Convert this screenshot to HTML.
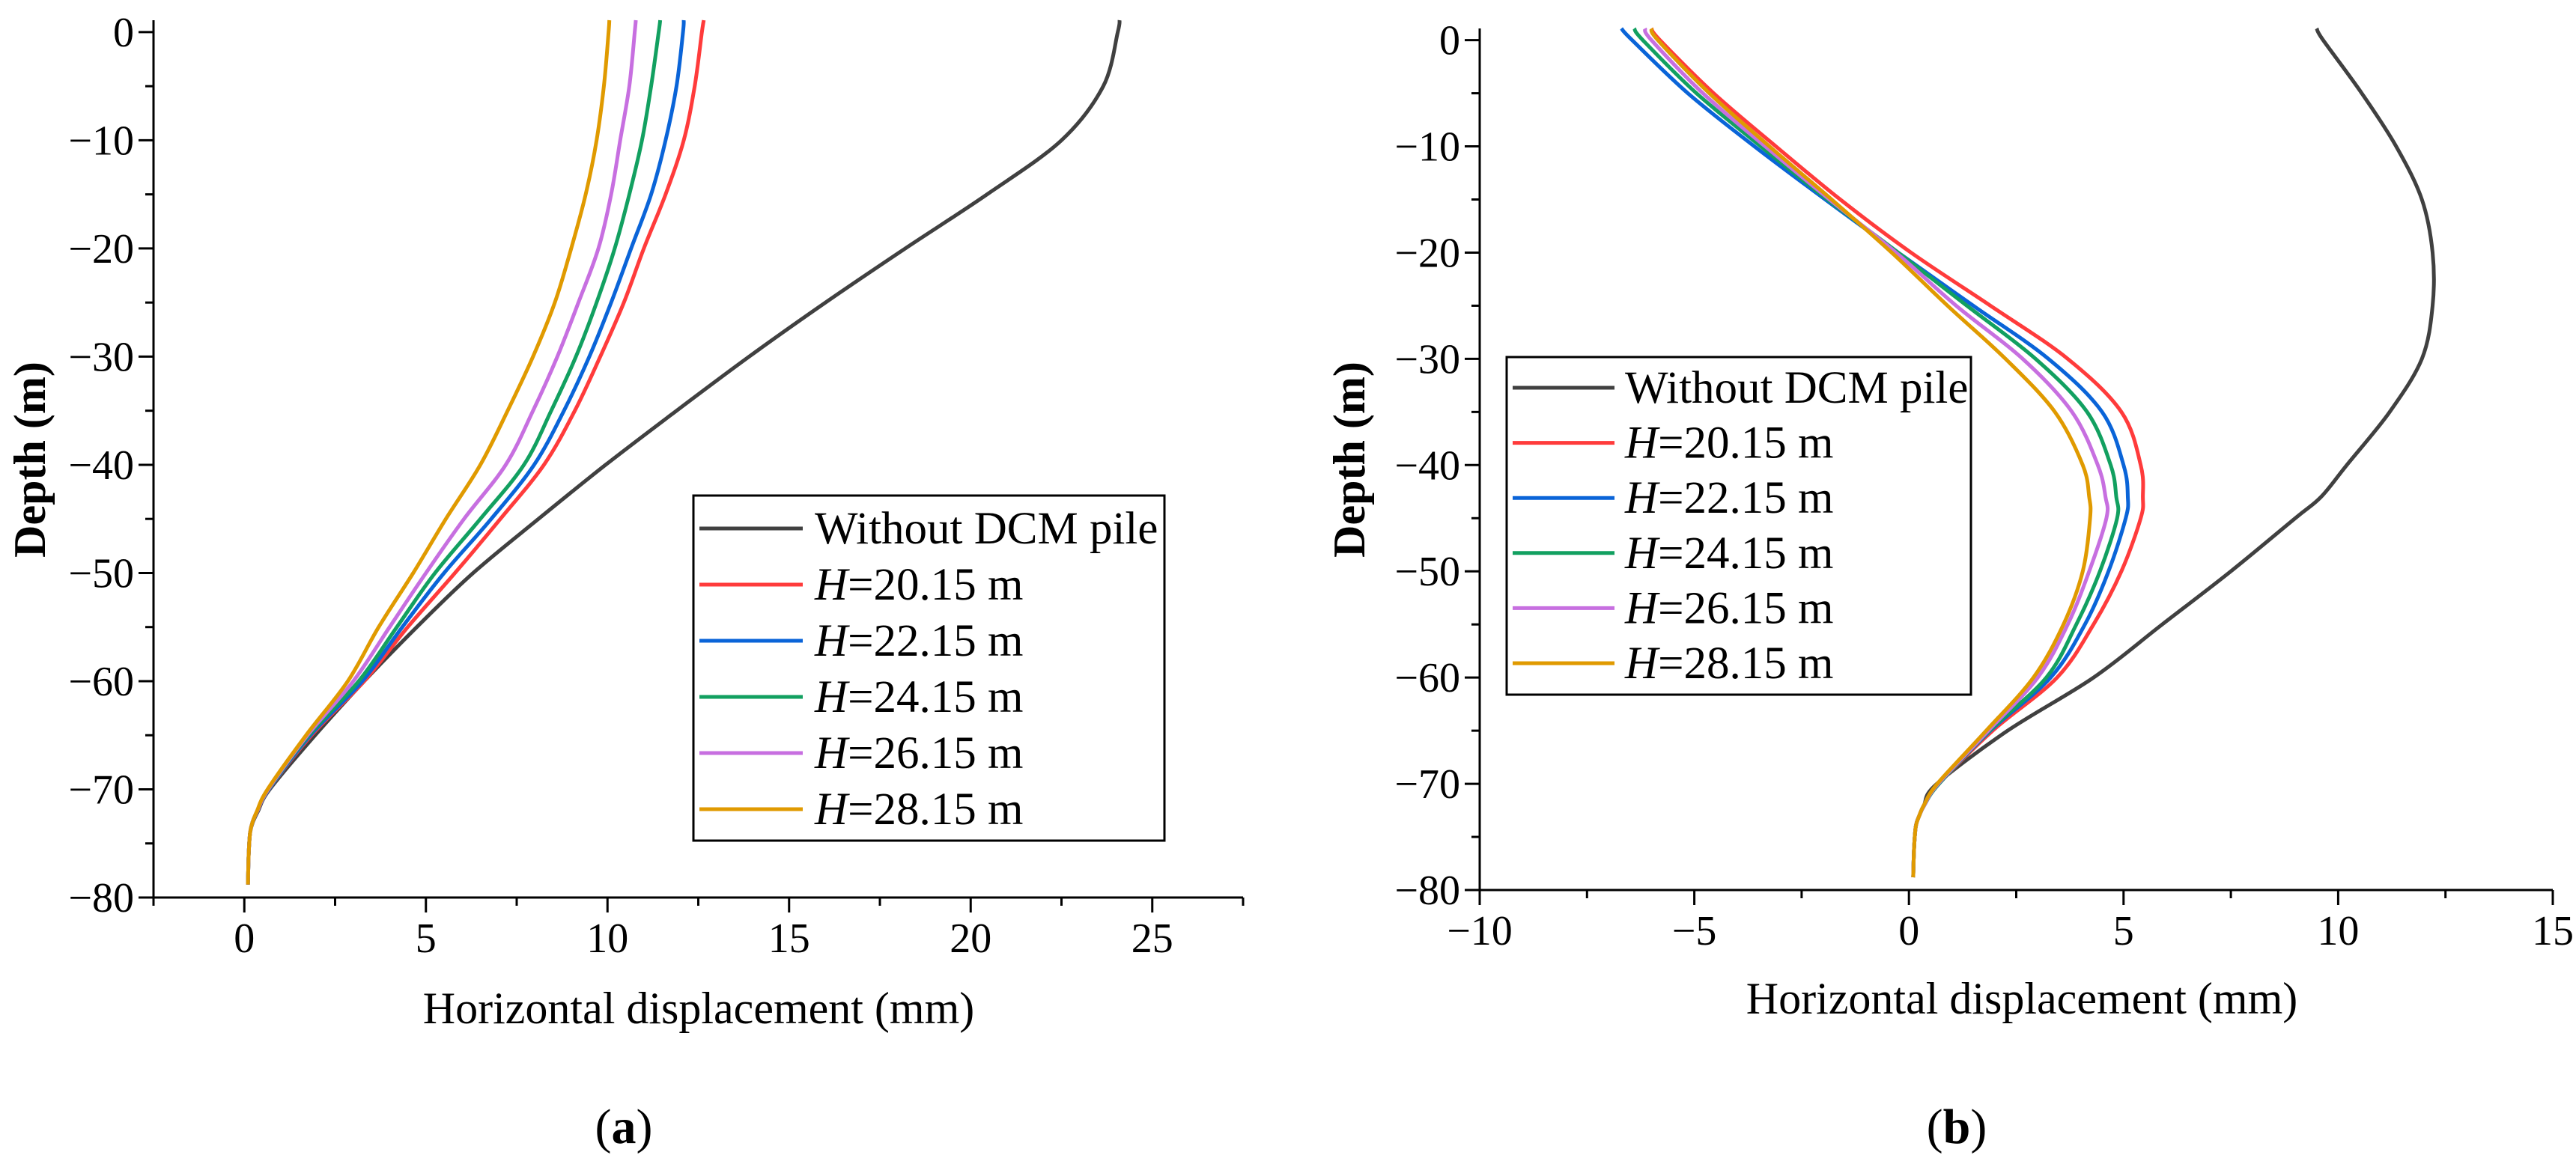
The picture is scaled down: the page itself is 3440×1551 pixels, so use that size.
<!DOCTYPE html>
<html><head><meta charset="utf-8"><style>
html,body{margin:0;padding:0;background:#fff}
svg{display:block;font-family:"Liberation Serif",serif}
</style></head><body>
<svg id="fig" width="3440" height="1551" viewBox="0 0 3440 1551">
<g id="chartA"></g>
<g id="chartB"></g>
<text x="833" y="1527" font-size="66" text-anchor="middle">(<tspan font-weight="bold">a</tspan>)</text>
<text x="2613" y="1527" font-size="66" text-anchor="middle">(<tspan font-weight="bold">b</tspan>)</text>
</svg>
<script>
const seriesNames = ["Without DCM pile","H=20.15 m","H=22.15 m","H=24.15 m","H=26.15 m","H=28.15 m"];
const seriesColors = ["#404040","#ff3b3b","#0a64d8","#12a060","#c76fe0","#e09a00"];
const depthsA = [1.1,0,-5,-10,-15,-20,-25,-30,-35,-40,-45,-50,-55,-60,-65,-70,-72,-73,-74,-76,-78.8];
const aWithout = [24.1,24.05,23.65,22.5,20.45,18.2,16.0,13.9,11.9,9.95,8.1,6.3,4.75,3.3,1.95,0.7,0.38,0.24,0.16,0.12,0.1];
const a2015 = [12.65,12.6,12.4,12.1,11.6,11.0,10.45,9.8,9.1,8.25,7.05,5.8,4.5,3.3,1.85,0.68,0.36,0.23,0.16,0.12,0.1];
const a2215 = [12.1,12.08,11.9,11.6,11.2,10.65,10.1,9.5,8.8,7.98,6.8,5.5,4.35,3.25,1.82,0.68,0.36,0.23,0.16,0.12,0.1];
const a2415 = [11.45,11.41,11.2,10.95,10.6,10.2,9.7,9.13,8.45,7.7,6.5,5.25,4.2,3.15,1.78,0.67,0.36,0.23,0.16,0.12,0.1];
const a2615 = [10.78,10.75,10.6,10.35,10.1,9.75,9.2,8.62,7.95,7.2,6.05,5.0,4.0,3.0,1.74,0.66,0.36,0.23,0.16,0.12,0.1];
const a2815 = [10.05,10.03,9.9,9.7,9.4,9.0,8.55,7.95,7.25,6.5,5.55,4.65,3.7,2.85,1.7,0.64,0.35,0.23,0.16,0.12,0.1];
const depthsB = [1.1,0,-5,-10,-15,-20,-25,-30,-35,-40,-43,-45,-50,-55,-60,-65,-70,-72,-73,-74,-76,-78.8];
const bWithout = [9.5,9.65,10.55,11.35,11.95,12.2,12.2,11.95,11.2,10.2,9.6,9.0,7.5,5.9,4.3,2.3,0.65,0.35,0.24,0.16,0.12,0.1];
const b2015 = [-6.0,-5.8,-4.55,-3.1,-1.6,0.05,1.9,3.7,4.95,5.4,5.45,5.4,4.95,4.3,3.45,1.95,0.7,0.36,0.24,0.16,0.12,0.1];
const b2215 = [-6.7,-6.45,-5.15,-3.6,-1.95,-0.25,1.5,3.25,4.5,5.0,5.1,5.05,4.65,4.1,3.3,1.9,0.7,0.36,0.24,0.16,0.12,0.1];
const b2415 = [-6.4,-6.2,-4.95,-3.45,-1.9,-0.25,1.35,2.95,4.15,4.7,4.83,4.85,4.45,3.9,3.2,1.88,0.7,0.36,0.24,0.16,0.12,0.1];
const b2615 = [-6.15,-6.0,-4.8,-3.35,-1.85,-0.3,1.1,2.65,3.8,4.4,4.58,4.6,4.2,3.7,3.0,1.85,0.68,0.36,0.24,0.16,0.12,0.1];
const b2815 = [-6.0,-5.85,-4.65,-3.25,-1.8,-0.4,0.9,2.25,3.4,4.05,4.2,4.22,4.05,3.6,2.9,1.8,0.66,0.35,0.24,0.16,0.12,0.1];
const xTicksA = [0,5,10,15,20,25];
const xTicksB = [-10,-5,0,5,10,15];
const yTicks = [0,-10,-20,-30,-40,-50,-60,-70,-80];

const NS="http://www.w3.org/2000/svg";
function mk(parent,tag,attrs){const e=document.createElementNS(NS,tag);for(const k in attrs)e.setAttribute(k,attrs[k]);parent.appendChild(e);return e;}
function smooth(pts){let d="M"+pts[0][0].toFixed(1)+","+pts[0][1].toFixed(1);
 for(let i=0;i<pts.length-1;i++){const p0=pts[Math.max(0,i-1)],p1=pts[i],p2=pts[i+1],p3=pts[Math.min(pts.length-1,i+2)];
  const c1=[p1[0]+(p2[0]-p0[0])/6,p1[1]+(p2[1]-p0[1])/6],c2=[p2[0]-(p3[0]-p1[0])/6,p2[1]-(p3[1]-p1[1])/6];
  d+="C"+c1[0].toFixed(1)+","+c1[1].toFixed(1)+" "+c2[0].toFixed(1)+","+c2[1].toFixed(1)+" "+p2[0].toFixed(1)+","+p2[1].toFixed(1);}
 return d;}

function draw(cfg){
 const g=cfg.g;
 const X=v=>cfg.x0+(v-cfg.xmin)/(cfg.xmax-cfg.xmin)*(cfg.x1-cfg.x0);
 const Y=v=>cfg.y0+(cfg.ymax-v)/(cfg.ymax-cfg.ymin)*(cfg.y1-cfg.y0);
 const ax=mk(g,"path",{d:`M${cfg.x0},${cfg.y0}V${cfg.y1}H${cfg.x1}`,stroke:"#000","stroke-width":3,fill:"none"});
 
 
 for(let v=-80;v<=0;v+=5){const maj=v%10===0;mk(g,"line",{x1:cfg.x0,x2:cfg.x0-(maj?20:11),y1:Y(v),y2:Y(v),stroke:"#000","stroke-width":3});}
 yTicks.forEach(v=>{const t=mk(g,"text",{x:cfg.x0-26,y:Y(v)+19,"font-size":56,"text-anchor":"end"});t.textContent=v===0?"0":"\u2212"+Math.abs(v);
  
  });
 for(let v=cfg.xmin;v<=cfg.xmax+0.01;v+=2.5){const maj=Math.abs(v/5-Math.round(v/5))<0.01;mk(g,"line",{x1:X(v),x2:X(v),y1:cfg.y1,y2:cfg.y1+(maj?20:11),stroke:"#000","stroke-width":3});}
 cfg.xt.forEach(v=>{const t=mk(g,"text",{x:X(v),y:cfg.xly,"font-size":56,"text-anchor":"middle"});t.textContent=v<0?"\u2212"+Math.abs(v):String(v);
  
  });
 const xt=mk(g,"text",{x:cfg.xtx,y:cfg.xty,"font-size":60,"text-anchor":"middle"});xt.textContent="Horizontal displacement (mm)";
 
 
 const yt=mk(g,"text",{x:0,y:0,"font-size":60,"font-weight":"bold","text-anchor":"middle",transform:`translate(${cfg.ytx},${cfg.yty}) rotate(-90)`});yt.textContent="Depth (m)";
 
 
 cfg.series.forEach((s,i)=>{const pts=s.map((v,j)=>[X(v),Y(cfg.depths[j])]);
  const p=mk(g,"path",{d:smooth(pts),stroke:seriesColors[i],"stroke-width":5,fill:"none","stroke-linejoin":"round"});
  
  });
 const L=cfg.leg;
 const box=mk(g,"rect",{x:L.x,y:L.y,width:L.w,height:L.h,fill:"#fff",stroke:"#000","stroke-width":3});
 
 
 seriesNames.forEach((n,i)=>{const cy=L.y+L.r0+i*L.dy;
  mk(g,"line",{x1:L.lx0,x2:L.lx1,y1:cy,y2:cy,stroke:seriesColors[i],"stroke-width":5});
  const t=mk(g,"text",{x:L.tx,y:cy+20,"font-size":61});
  if(i===0)t.textContent=n;else t.innerHTML='<tspan font-style="italic">H</tspan>'+n.slice(1);
  
  });
}
draw({g:document.getElementById("chartA"),x0:205,x1:1660,y0:27,y1:1199,xmin:-2.5,xmax:27.5,ymin:-80,ymax:1.1,
 xt:xTicksA,xly:1272,xtx:933,xty:1367,ytx:60,yty:614,depths:depthsA,series:[aWithout,a2015,a2215,a2415,a2615,a2815],
 leg:{x:926,y:662,w:629,h:461,r0:44,dy:75,lx0:934,lx1:1072,tx:1088}});
draw({g:document.getElementById("chartB"),x0:1976,x1:3409,y0:38,y1:1189,xmin:-10,xmax:15,ymin:-80,ymax:1.1,
 xt:xTicksB,xly:1262,xtx:2700,xty:1354,ytx:1822,yty:614,depths:depthsB,series:[bWithout,b2015,b2215,b2415,b2615,b2815],
 leg:{x:2012,y:477,w:620,h:451,r0:41,dy:73.6,lx0:2020,lx1:2156,tx:2170}});
</script>
</body></html>
